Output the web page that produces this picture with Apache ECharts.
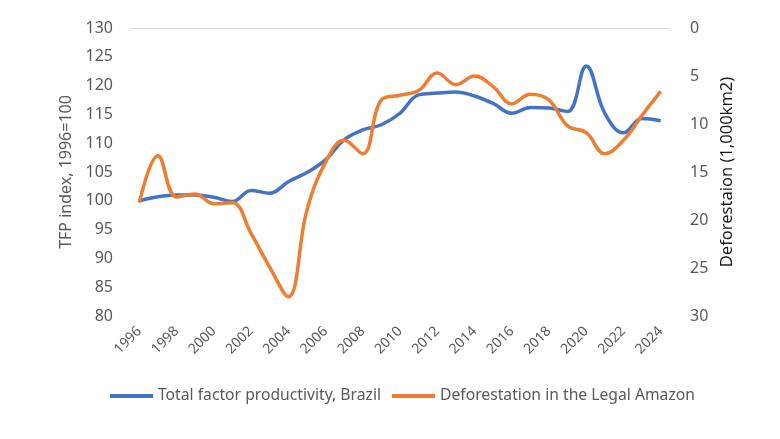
<!DOCTYPE html>
<html><head><meta charset="utf-8">
<script src="https://cdn.jsdelivr.net/npm/echarts@6/dist/echarts.min.js"></script>
<style>html,body{margin:0;padding:0;background:#fff}#c{width:780px;height:439px}</style>
</head><body><div id="c"></div>
<script>
const years = ['1996','1997','1998','1999','2000','2001','2002','2003','2004','2005','2006','2007','2008','2009','2010','2011','2012','2013','2014','2015','2016','2017','2018','2019','2020','2021','2022','2023','2024'];
const tfp = [100,100.7,101,101,100.6,99.9,101.8,101.3,103.3,104.9,107.1,110.6,112.3,113.2,115.2,118.4,118.7,118.9,118.2,116.9,115.2,116.2,116.1,115.5,123.4,115.2,111.8,114.3,113.9];
const deforestation = [18.2,13.3,17.6,17.3,18.3,18.2,21.4,24.9,28.0,19.0,14.0,11.7,13.1,7.5,7.0,6.5,4.7,5.9,5.0,6.1,7.9,6.9,7.5,10.2,10.9,13.1,11.7,9.1,6.6];
const seriesNames = ['Total factor productivity, Brazil','Deforestation in the Legal Amazon'];
const leftName = 'TFP index, 1996=100';
const rightName = 'Deforestaion (1,000km2)';
const FONT = 'Noto Sans';
const chart = echarts.init(document.getElementById('c'));
chart.setOption({
  animation:false,
  textStyle:{fontFamily:FONT},
  grid:{left:130,right:110,top:28,bottom:123},
  legend:{
    top:383,left:105,itemWidth:43,itemHeight:4,itemGap:11,
    icon:'rect',
    textStyle:{color:'#595959',fontSize:15.7,fontFamily:FONT},
    data:seriesNames
  },
  xAxis:{
    type:'category',data:years,boundaryGap:true,
    axisLine:{lineStyle:{color:'#d9d9d9'}},
    axisTick:{show:false},
    axisLabel:{interval:1,rotate:45,color:'#595959',fontSize:14,margin:13,fontFamily:FONT}
  },
  yAxis:[{
    type:'value',min:80,max:130,interval:5,
    name:leftName,nameLocation:'middle',nameGap:53,nameRotate:90,
    nameTextStyle:{color:'#595959',fontSize:16,fontFamily:FONT},
    axisLine:{show:false},axisTick:{show:false},splitLine:{show:false},
    axisLabel:{color:'#595959',fontSize:16,margin:17,fontFamily:FONT}
  },{
    type:'value',min:0,max:30,interval:5,inverse:true,position:'right',
    name:rightName,nameLocation:'middle',nameGap:48,nameRotate:90,
    nameTextStyle:{color:'#1a1a1a',fontSize:16.5,fontFamily:FONT},
    axisLine:{show:false},axisTick:{show:false},splitLine:{show:false},
    axisLabel:{color:'#595959',fontSize:16,margin:20,fontFamily:FONT}
  }],
  series:[{
    name:seriesNames[0],type:'line',data:tfp,yAxisIndex:0,smooth:0.4,
    symbol:'none',lineStyle:{color:'#4472C4',width:3.5},itemStyle:{color:'#4472C4'}
  },{
    name:seriesNames[1],type:'line',data:deforestation,yAxisIndex:1,smooth:0.4,
    symbol:'none',lineStyle:{color:'#ED7D31',width:3.5},itemStyle:{color:'#ED7D31'}
  }]
});
</script></body></html>
